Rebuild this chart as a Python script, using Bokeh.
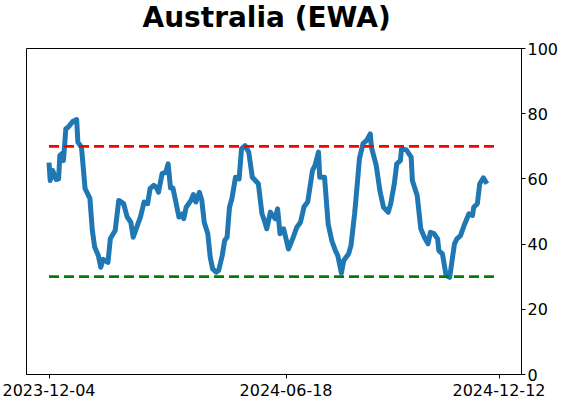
import pandas as pd
from bokeh.plotting import figure
from bokeh.models import Range1d, FixedTicker, DatetimeTickFormatter, Title
from bokeh.embed import file_html
from bokeh.resources import INLINE

title_text = "Australia (EWA)"
start_date = "2023-12-04"
# day offsets from start_date and indicator values
day_offsets = [0, 1, 3, 6, 8, 9, 11, 12, 14, 16, 20, 23, 24, 27, 30, 34, 36, 38, 41, 43,
               45, 49, 51, 55, 58, 62, 65, 68, 70, 74, 76, 79, 82, 84, 87, 89, 91, 94, 97, 99,
               101, 103, 108, 111, 112, 114, 118, 120, 122, 125, 127, 129, 132, 134, 136, 139, 141, 144, 146, 148,
               150, 152, 155, 158, 160, 163, 166, 169, 174, 177, 179, 181, 184, 188, 190, 192, 195, 199, 203, 206,
               209, 212, 215, 219, 221, 224, 225, 229, 232, 235, 238, 240, 243, 245, 249, 251, 254, 256, 258, 261,
               264, 267, 268, 272, 275, 278, 282, 284, 287, 289, 292, 293, 297, 301, 302, 306, 309, 312, 315, 317,
               320, 323, 324, 327, 330, 333, 334, 337, 339, 342, 345, 349, 352, 353, 356, 358, 361, 364]
values = [65, 59.5, 62.6, 59.8, 60, 67.2, 67.8, 65.6, 75.4, 75.9, 77.7, 78.2, 71.3, 69.7, 57, 54, 44.2, 39, 36.5, 32.9,
          35.3, 34.4, 41.7, 44.2, 53.4, 52.4, 48.3, 46.7, 42.1, 46.3, 48.3, 52.9, 52.4, 57, 58, 57.5, 55.9, 61.6, 62, 64.6,
          57.2, 57.2, 48.3, 49.3, 47.8, 51.3, 53.4, 55.2, 52.9, 55.9, 53.4, 46.7, 43.2, 36, 32.4, 31.4, 31.9, 36.5, 41.1, 42.1,
          51.3, 53.9, 60.5, 60, 69.2, 70.2, 68.2, 60.5, 58.5, 49.3, 47.2, 44.7, 49.8, 47.8, 50.8, 43.2, 44.7, 38.5, 42.1, 45.2,
          46.7, 51.5, 52.9, 62.6, 64.1, 68.2, 60.5, 60.5, 46.2, 41.1, 38, 36.5, 31.1, 35, 37, 39.6, 49.3, 57.5, 66.2, 70.8,
          71.8, 73.8, 69.7, 64.1, 56.4, 51.3, 49.8, 52.4, 58.5, 64.6, 65.6, 69.2, 68.9, 66.7, 59.5, 54.9, 44.7, 42.1, 40.1, 43.6,
          43.2, 41.6, 38, 37, 30.4, 29.8, 32.4, 40.1, 41.6, 42.6, 45.7, 49.3, 48.8, 51.3, 52.4, 58.5, 60.3, 58.5]
upper_level = 70
lower_level = 30
level_dates = ["2023-12-04", "2024-12-12"]
tick_dates = ["2023-12-04", "2024-06-18", "2024-12-12"]
y_ticks = [0, 20, 40, 60, 80, 100]

dates = pd.Timestamp(start_date) + pd.to_timedelta(day_offsets, unit="D")
lv = pd.to_datetime(level_dates)
pad = (lv[1] - lv[0]) * 0.05
x_start = lv[0] - pad
x_end = lv[1] + pad
tick_ms = [pd.Timestamp(d).value / 1e6 for d in tick_dates]

FONT = "DejaVu Sans"

p = figure(width=562, height=402, output_backend="svg", toolbar_location=None,
           x_axis_type="datetime", y_axis_location="right",
           x_range=Range1d(x_start, x_end), y_range=Range1d(0, 100),
           min_border_left=26, min_border_right=41, min_border_top=48, min_border_bottom=28)

p.title.text = title_text
p.title.text_font = FONT
p.title.text_font_size = "28px"
p.title.text_font_style = "bold"
p.title.text_color = "black"
p.title.align = "left"
p.title.offset = 116
p.title.vertical_align = "top"
p.title.standoff = 0

# empty spacer panel between the title and the plot frame
spacer = Title(text=" ", text_font_size="2px", standoff=9)
p.add_layout(spacer, "above")

p.grid.visible = False
p.outline_line_color = "black"
p.outline_line_width = 1
p.background_fill_color = "white"
p.border_fill_color = "white"

p.line(dates, values, line_color="#1f77b4", line_width=5, line_join="round")
p.line(lv, [upper_level, upper_level], line_color="#ff0000", line_width=2.75, line_dash="10 5")
p.line(lv, [lower_level, lower_level], line_color="#008000", line_width=2.75, line_dash="10 5")

xa = p.xaxis[0]
xa.ticker = FixedTicker(ticks=tick_ms)
fmt = "%Y-%m-%d"
xa.formatter = DatetimeTickFormatter(milliseconds=fmt, seconds=fmt, minsec=fmt, minutes=fmt,
                                     hourmin=fmt, hours=fmt, days=fmt, months=fmt, years=fmt)
xa.minor_tick_line_color = None
xa.major_tick_in = 0
xa.major_tick_out = 4
xa.major_label_standoff = 5
xa.axis_label_standoff = 0
xa.major_label_text_font = FONT
xa.major_label_text_font_size = "16px"
xa.major_label_text_color = "black"
xa.axis_line_color = "black"

ya = p.yaxis[0]
ya.ticker = FixedTicker(ticks=y_ticks)
ya.minor_tick_line_color = None
ya.major_tick_in = 0
ya.major_tick_out = 4
ya.major_label_standoff = 2
ya.axis_label_standoff = 0
ya.major_label_text_font = FONT
ya.major_label_text_font_size = "16px"
ya.major_label_text_color = "black"
ya.axis_line_color = "black"

open("out.html", "w").write(file_html(p, INLINE))
